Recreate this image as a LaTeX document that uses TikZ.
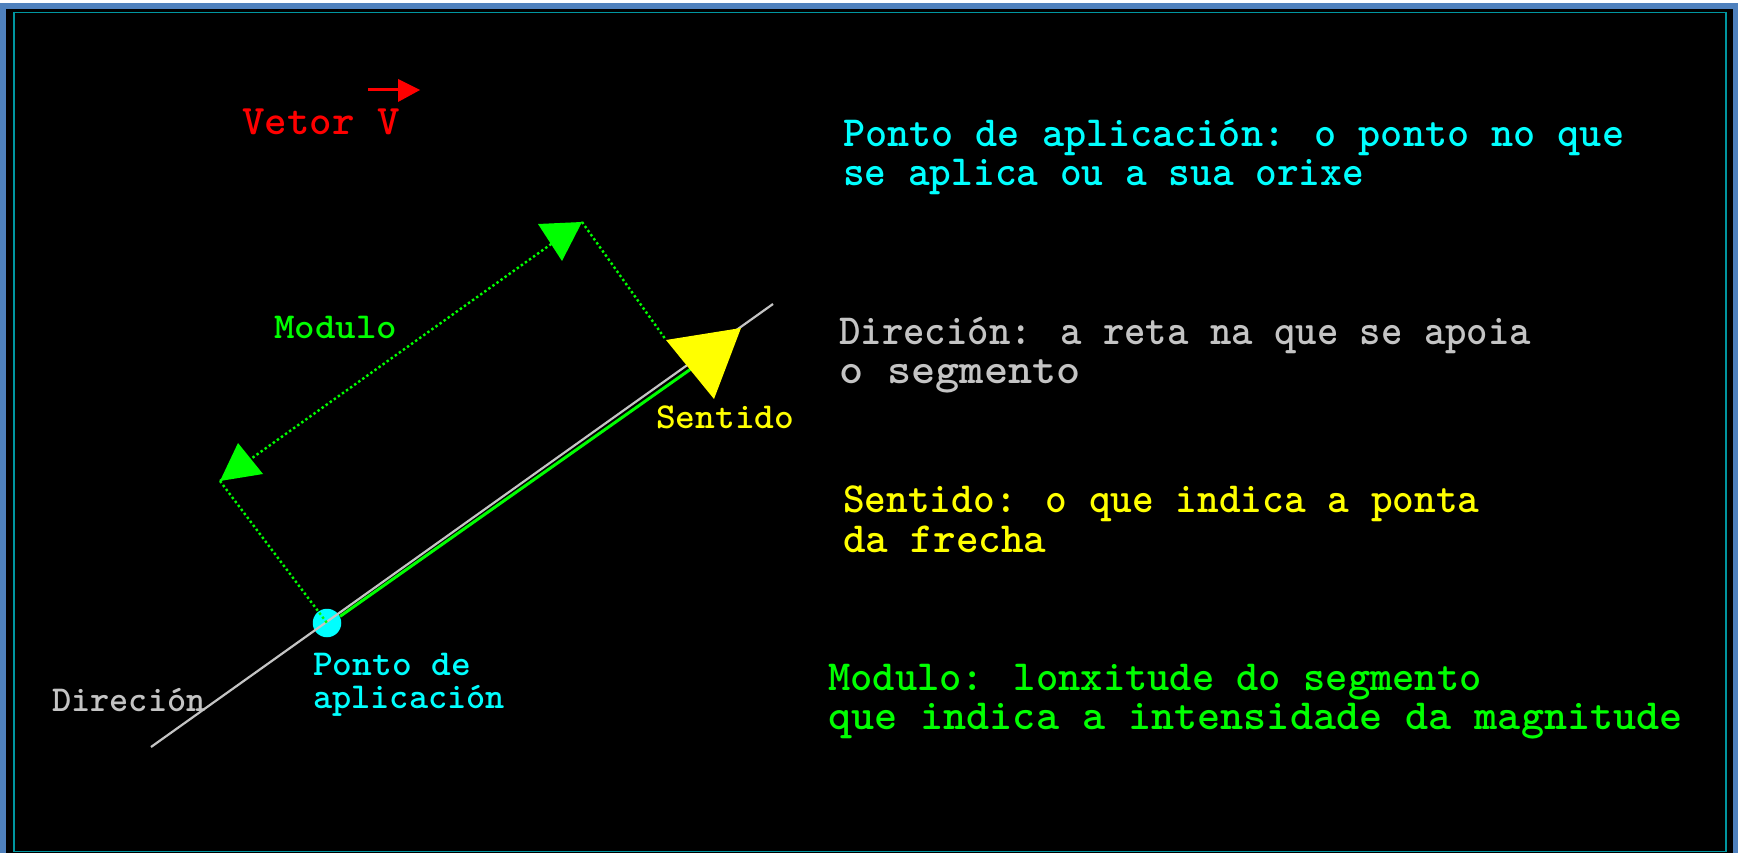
\documentclass[tikz,border=0pt]{standalone}
\usepackage{fontspec}
\newfontfamily\vmono{lmmonolt10-bold.otf}
\usetikzlibrary{calc}
\definecolor{frameblue}{RGB}{79,129,189}
\definecolor{frameteal}{RGB}{0,150,160}
\definecolor{ccyan}{RGB}{0,255,255}
\definecolor{cgray}{RGB}{196,196,196}
\definecolor{cyellow}{RGB}{255,255,0}
\definecolor{cgreen}{RGB}{0,255,0}
\definecolor{cred}{RGB}{255,0,0}
\newcommand{\hs}[2]{\scalebox{#1}[1]{#2}}
\begin{document}
\begin{tikzpicture}[x=1pt,y=-1pt,
  big/.style={inner sep=0pt, anchor=base west, text height=27pt, text depth=6pt, font=\vmono\fontsize{43}{46}\selectfont},
  small/.style={inner sep=0pt, anchor=base west, text height=23pt, text depth=6pt, font=\vmono\fontsize{36.5}{40}\selectfont},
  dimline/.style={cgreen, line width=2.4pt, dash pattern=on 2.4pt off 2.6pt},
  vecline/.style={cgreen, line width=3pt},
  dirline/.style={cgray, line width=2.2pt},
  ]
\useasboundingbox (0,0) rectangle (1738,853);
% frame
\fill[white] (0,0) rectangle (1738,853);
\fill[frameblue] (0,3) rectangle (1738,853);
\fill[black] (6,9) rectangle (1733,853);
\draw[frameteal, line width=1.5pt] (14,12.5) rectangle (1726,851.5);

% points
\coordinate (D1) at (151,747);
\coordinate (D2) at (773,304);
\coordinate (Tip) at (741,328);
\coordinate (B1) at (666,340);
\coordinate (B2) at (714,399);
\coordinate (Gend) at (700,360);
\coordinate (M1) at (220,481);
\coordinate (M2) at (582,222);

\node[circle, fill=ccyan, minimum size=28.5pt, inner sep=0pt] (P) at (327,623) {};
\draw[dirline] (D1) -- (D2);
\draw[vecline, transform canvas={shift={(1.2pt,-1.7pt)}}] (P) -- (Gend);

% module dimension
\draw[dimline] (M1) -- (M2);
\draw[dimline] (M2) -- (B1);
\draw[dimline] (M1) -- (P.center);
\fill[cgreen] (M1) -- (238,443) -- (263,474) -- cycle;
\fill[cgreen] (M2) -- (538,224) -- (562,261) -- cycle;

% sense arrowhead
\fill[cyellow] (Tip) -- (B1) -- (B2) -- cycle;

% title
\node[big, font=\vmono\fontsize{42}{46}\selectfont, text=cred] (title) at (242,135) {\hs{1.02}{Vetor V}};
\coordinate (VA) at (368,90);
\coordinate (VB) at (402,90);
\draw[cred, line width=3pt] (VA) -- (VB);
\fill[cred] (420,90) -- (398,79) -- (398,102) -- cycle;

% left labels
\node[small, text=cgreen] (lmod) at (274,338) {\hs{1.07}{Modulo}};
\node[small, text=cyellow] (lsen) at (656,428) {\hs{1.03}{Sentido}};
\node[small, text=cgray] (ldir) at (52,711.5) {Direción};
\node[small, text=ccyan] (lpa1) at (313,675) {\hs{1.03}{Ponto de}};
\node[small, text=ccyan] (lpa2) at (313,708.5) {aplicación};

% right column
\node[big, text=ccyan] (pa1) at (843,146.5) {\hs{0.979}{Ponto de aplicación: o ponto no que}};
\node[big, text=ccyan] (pa2) at (843,185.5) {\hs{0.961}{se aplica ou a sua orixe}};
\node[big, text=cgray] (di1) at (839,344) {\hs{0.948}{Direción: a reta na que se apoia}};
\node[big, text=cgray] (di2) at (839,383) {\hs{1.07}{o segmento}};
\node[big, text=cyellow] (se1) at (843,512.5) {\hs{0.961}{Sentido: o que indica a ponta}};
\node[big, text=cyellow] (se2) at (843,552) {da frecha};
\node[big, text=cgreen] (mo1) at (828,690) {\hs{0.987}{Modulo: lonxitude do segmento}};
\node[big, text=cgreen] (mo2) at (828,729.5) {\hs{1.023}{que indica a intensidade da magnitude}};
\end{tikzpicture}
\end{document}
